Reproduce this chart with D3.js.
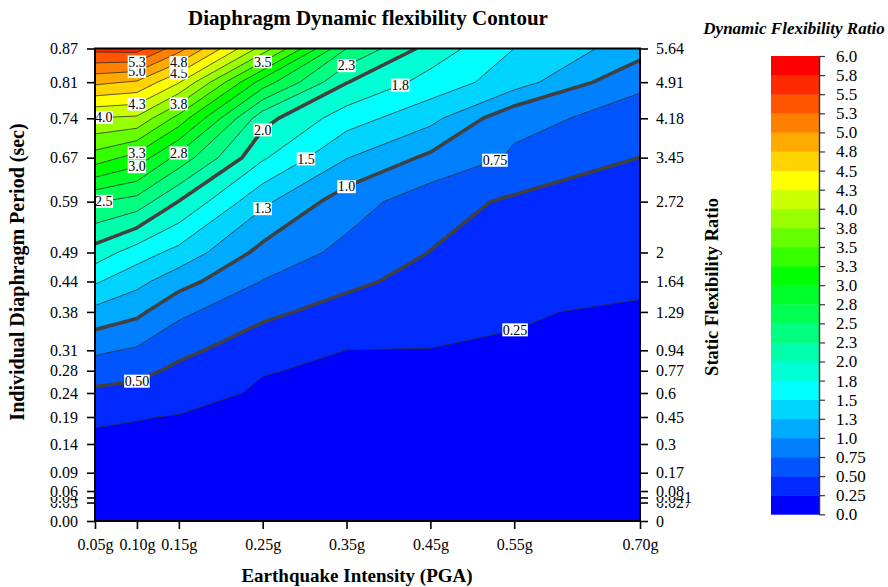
<!DOCTYPE html>
<html>
<head>
<meta charset="utf-8">
<script src="https://cdn.jsdelivr.net/npm/d3@7/dist/d3.min.js"></script>
<style>
html,body{margin:0;padding:0;background:#fff;}
svg{display:block;}
text{font-family:"Liberation Serif","Times New Roman",Times,serif;fill:#000;}
</style>
</head>
<body>
<svg id="chart" width="888" height="587"></svg>
<script>
// ---------------- data ----------------
const pgaValues = [0.05, 0.10, 0.15, 0.25, 0.35, 0.45, 0.55, 0.70];
const pgaLabels = ["0.05g","0.10g","0.15g","0.25g","0.35g","0.45g","0.55g","0.70g"];

// individual diaphragm periods (sec), bottom to top
const periods = [0, 0.034, 0.0433, 0.0552, 0.0889, 0.1418, 0.1915, 0.2357, 0.2767, 0.3143,
                 0.385, 0.441, 0.4944, 0.588, 0.669, 0.7415, 0.808, 0.87];
const periodLabels = ["0.00","0.03","0.04","0.06","0.09","0.14","0.19","0.24","0.28","0.31",
                      "0.38","0.44","0.49","0.59","0.67","0.74","0.81","0.87"];
const staticRatioLabels = ["0","0.027","0.041","0.08","0.17","0.3","0.45","0.6","0.77","0.94",
                           "1.29","1.64","2","2.72","3.45","4.18","4.91","5.64"];

// dynamic flexibility ratio for each PGA, one value per period (bottom to top)
const dfr_005 = [0, 0.049, 0.062, 0.079, 0.127, 0.205, 0.280, 0.451, 0.619, 0.795, 1.177, 1.531, 1.894, 2.520, 3.386, 3.990, 4.810, 5.580];
const dfr_010 = [0, 0.047, 0.059, 0.076, 0.122, 0.194, 0.260, 0.423, 0.568, 0.718, 1.058, 1.322, 1.625, 2.398, 3.155, 3.952, 4.720, 5.600];
const dfr_015 = [0, 0.042, 0.054, 0.069, 0.111, 0.177, 0.239, 0.341, 0.449, 0.558, 0.804, 1.097, 1.418, 1.990, 2.661, 3.405, 4.270, 5.100];
const dfr_025 = [0, 0.032, 0.041, 0.052, 0.083, 0.133, 0.179, 0.221, 0.260, 0.365, 0.550, 0.740, 0.922, 1.303, 1.784, 2.090, 2.885, 3.900];
const dfr_035 = [0, 0.027, 0.034, 0.044, 0.070, 0.112, 0.151, 0.186, 0.218, 0.248, 0.415, 0.551, 0.681, 0.866, 1.260, 1.615, 2.010, 2.500];
const dfr_045 = [0, 0.027, 0.034, 0.043, 0.069, 0.111, 0.149, 0.184, 0.216, 0.245, 0.340, 0.419, 0.495, 0.603, 0.948, 1.325, 1.654, 1.900];
const dfr_055 = [0, 0.024, 0.031, 0.039, 0.063, 0.101, 0.136, 0.168, 0.205, 0.239, 0.260, 0.320, 0.380, 0.459, 0.717, 0.809, 1.367, 1.500];
const dfr_070 = [0, 0.0205, 0.026, 0.033, 0.054, 0.086, 0.116, 0.142, 0.167, 0.190, 0.232, 0.276, 0.329, 0.421, 0.498, 0.676, 0.782, 1.114];
const dfrColumns = [dfr_005, dfr_010, dfr_015, dfr_025, dfr_035, dfr_045, dfr_055, dfr_070];

// contour levels / legend
const levels = [0, 0.25, 0.5, 0.75, 1.0, 1.25, 1.5, 1.75, 2.0, 2.25, 2.5, 2.75, 3.0,
                3.25, 3.5, 3.75, 4.0, 4.25, 4.5, 4.75, 5.0, 5.25, 5.5, 5.75, 6.0];
const thickLevels = [0.5, 1.0, 2.0];

// in-line contour labels: level and the PGA where the label sits
const labelLevels = [0.25, 0.5, 0.75, 1.0, 1.25, 1.5, 1.75, 2.0, 2.25, 2.5, 2.75, 3.0, 3.25, 3.5, 3.75, 4.0, 4.25, 4.5, 4.75, 5.0, 5.25];
const labelPGA    = [0.551, 0.10, 0.527, 0.35, 0.25, 0.3016, 0.414, 0.25, 0.35, 0.0605, 0.15, 0.10, 0.10, 0.25, 0.15, 0.0605, 0.10, 0.15, 0.15, 0.10, 0.10];

// ---------------- styles ----------------
const SERIF = '"Liberation Serif","Times New Roman",Times,serif';
const bandColors = ["#0000ff","#002aff","#0055ff","#0080ff","#00aaff","#00d4ff","#00ffff","#00ffd4",
                    "#00ffaa","#00ff80","#00ff55","#00ff2a","#00ff00","#33ff00","#66ff00","#99ff00",
                    "#ccff00","#ffff00","#ffd400","#ffaa00","#ff8000","#ff5500","#ff2a00","#ff0000"];
const fmt = v => (v > 0 && v < 1) ? v.toFixed(2) : v.toFixed(1);

const svg = d3.select("#chart").attr("font-family", SERIF);
const x = d3.scaleLinear().domain(d3.extent(pgaValues)).range([95, 640]);
const y = d3.scaleLinear().domain(d3.extent(periods)).range([521, 48.5]);
const X0 = x.range()[0], X1 = x.range()[1], Y0 = y.range()[0], Y1 = y.range()[1];

// grid
const nx = pgaValues.length, ny = periods.length;
const values = new Array(nx * ny);
for (let j = 0; j < ny; j++) for (let i = 0; i < nx; i++) values[j * nx + i] = dfrColumns[i][j];

function interpArr(arr, t) {
  t = Math.max(0, Math.min(arr.length - 1, t));
  const i0 = Math.min(Math.floor(t), arr.length - 2);
  const f = t - i0;
  return arr[i0] + f * (arr[i0 + 1] - arr[i0]);
}
const toPx = p => [x(interpArr(pgaValues, p[0] - 0.5)), y(interpArr(periods, p[1] - 0.5))];

const contourGen = d3.contours().size([nx, ny]);
const fills = contourGen.thresholds(levels.slice(0, -1))(values);

// clip
svg.append("clipPath").attr("id", "plotclip").append("rect")
  .attr("x", X0).attr("y", Y1).attr("width", X1 - X0).attr("height", Y0 - Y1);
const gPlot = svg.append("g").attr("clip-path", "url(#plotclip)");

function polyPath(geom) {
  let d = "";
  geom.coordinates.forEach(poly => poly.forEach(ring => {
    const pts = ring.map(toPx);
    d += "M" + pts.map(p => p[0].toFixed(2) + "," + p[1].toFixed(2)).join("L") + "Z";
  }));
  return d;
}
gPlot.selectAll("path.band").data(fills).enter().append("path")
  .attr("class", "band")
  .attr("d", polyPath)
  .attr("fill", (d, i) => bandColors[i])
  .attr("stroke", (d, i) => bandColors[i]).attr("stroke-width", 0.3);

// lines (interior segments only)
function onSide(p) {
  const e = 0.01;
  return { l: Math.abs(p[0] - X0) < e, r: Math.abs(p[0] - X1) < e, b: Math.abs(p[1] - Y0) < e, t: Math.abs(p[1] - Y1) < e };
}
function sameSide(a, b) {
  const sa = onSide(a), sb = onSide(b);
  return (sa.l && sb.l) || (sa.r && sb.r) || (sa.b && sb.b) || (sa.t && sb.t);
}
function interiorSegments(geom) {
  const segs = [];
  geom.coordinates.forEach(poly => poly.forEach(ring => {
    const pts = ring.map(toPx);
    for (let k = 0; k < pts.length - 1; k++) {
      if (!sameSide(pts[k], pts[k + 1])) segs.push([pts[k], pts[k + 1]]);
    }
  }));
  return segs;
}
function linePath(geom) {
  let d = "", last = null;
  interiorSegments(geom).forEach(([a, b]) => {
    if (!last || Math.abs(last[0] - a[0]) > 1e-6 || Math.abs(last[1] - a[1]) > 1e-6) d += "M" + a[0].toFixed(2) + "," + a[1].toFixed(2);
    d += "L" + b[0].toFixed(2) + "," + b[1].toFixed(2);
    last = b;
  });
  return d;
}
const lineData = fills.filter(c => c.value > 0);
gPlot.selectAll("path.iso").data(lineData).enter().append("path")
  .attr("class", "iso")
  .attr("d", linePath)
  .attr("fill", "none")
  .attr("stroke", d => thickLevels.includes(d.value) ? "#404040" : "#303030")
  .attr("stroke-width", d => thickLevels.includes(d.value) ? 3.6 : 0.8)
  .attr("stroke-linejoin", "round");

// contour labels
function findY(level, px) {
  const geom = fills.find(c => Math.abs(c.value - level) < 1e-9);
  let best = null;
  interiorSegments(geom).forEach(([a, b]) => {
    if (best !== null) return;
    if (a[0] !== b[0] && (a[0] - px) * (b[0] - px) <= 0) best = a[1] + (px - a[0]) / (b[0] - a[0]) * (b[1] - a[1]);
  });
  return best;
}
const gLab = svg.append("g");
labelLevels.forEach((lv, i) => {
  const px = x(labelPGA[i]);
  const py = findY(lv, px);
  if (py === null) return;
  const g = gLab.append("g").attr("transform", `translate(${px},${py})`);
  const t = g.append("text").attr("text-anchor", "middle").attr("dy", "0.34em")
    .style("font-family", SERIF).style("font-size", "14px").text(fmt(lv));
  const w = t.node().getComputedTextLength();
  g.insert("rect", "text").attr("x", -w / 2 - 0.5).attr("y", -6.5).attr("width", w + 1).attr("height", 13).attr("fill", "#fff");
});

// frame
svg.append("rect").attr("x", X0).attr("y", Y1).attr("width", X1 - X0).attr("height", Y0 - Y1)
  .attr("fill", "none").attr("stroke", "#000").attr("stroke-width", 2);

// axes
function styleAxis(g, size) {
  g.attr("font-family", SERIF);
  g.select(".domain").remove();
  g.selectAll(".tick line").attr("stroke", "#000").attr("stroke-width", 1.6);
  g.selectAll(".tick text").style("font-family", SERIF).style("font-size", size + "px").attr("fill", "#000");
}
function addBoxes(g, anchor) {
  g.selectAll(".tick").each(function () {
    const tick = d3.select(this);
    const t = tick.select("text");
    const w = t.node().getComputedTextLength();
    const tx = +t.attr("x");
    const bx = anchor === "end" ? tx - w : tx;
    tick.insert("rect", "text").attr("x", bx - 0.5).attr("y", -6.5).attr("width", w + 1).attr("height", 12).attr("fill", "#fff");
  });
}
const gLeft = svg.append("g").attr("transform", `translate(${X0},0)`)
  .call(d3.axisLeft(y).tickValues(periods).tickFormat((d, i) => periodLabels[i]).tickSize(8).tickPadding(9).tickSizeOuter(0));
styleAxis(gLeft, 16); addBoxes(gLeft, "end");

const gRight = svg.append("g").attr("transform", `translate(${X1},0)`)
  .call(d3.axisRight(y).tickValues(periods).tickFormat((d, i) => staticRatioLabels[i]).tickSize(8).tickPadding(8).tickSizeOuter(0));
styleAxis(gRight, 16); addBoxes(gRight, "start");

const gBottom = svg.append("g").attr("transform", `translate(0,${Y0})`)
  .call(d3.axisBottom(x).tickValues(pgaValues).tickFormat((d, i) => pgaLabels[i]).tickSize(8).tickPadding(10).tickSizeOuter(0));
styleAxis(gBottom, 16);

// titles
function title(sel, size, italic) {
  return sel.style("font-family", SERIF).style("font-size", size + "px").style("font-weight", "bold")
    .style("font-style", italic ? "italic" : "normal");
}
title(svg.append("text").attr("x", 368).attr("y", 25).attr("text-anchor", "middle"), 21)
  .text("Diaphragm Dynamic flexibility Contour");
title(svg.append("text").attr("x", 357).attr("y", 582).attr("text-anchor", "middle"), 19)
  .text("Earthquake Intensity (PGA)");
title(svg.append("text").attr("transform", "translate(24,272) rotate(-90)").attr("text-anchor", "middle"), 20)
  .text("Individual Diaphragm Period (sec)");
title(svg.append("text").attr("transform", "translate(718,287) rotate(-90)").attr("text-anchor", "middle"), 18.5)
  .text("Static Flexibility Ratio");

// legend
const lx0 = 771, lx1 = 819;
const ly = d3.scaleLinear().domain(d3.extent(levels)).range([514.3, 56]);
const gLeg = svg.append("g");
gLeg.selectAll("rect.lb").data(levels.slice(0, -1)).enter().append("rect")
  .attr("class", "lb")
  .attr("x", lx0).attr("width", lx1 - lx0)
  .attr("y", (d, i) => ly(levels[i + 1]))
  .attr("height", (d, i) => ly(levels[i]) - ly(levels[i + 1]) + 0.4)
  .attr("fill", (d, i) => bandColors[i]);
const gLegAxis = gLeg.append("g").attr("transform", `translate(${lx1},0)`)
  .call(d3.axisRight(ly).tickValues(levels).tickFormat(fmt).tickSize(6).tickPadding(11).tickSizeOuter(0));
gLegAxis.attr("font-family", SERIF);
gLegAxis.select(".domain").attr("stroke", "#333").attr("stroke-width", 1.4);
gLegAxis.selectAll(".tick line").attr("stroke", "#333").attr("stroke-width", 1.2);
gLegAxis.selectAll(".tick text").style("font-family", SERIF).style("font-size", "17px").attr("fill", "#000");
title(svg.append("text").attr("x", 794).attr("y", 34).attr("text-anchor", "middle"), 17, true)
  .text("Dynamic Flexibility Ratio");
</script>
</body>
</html>
